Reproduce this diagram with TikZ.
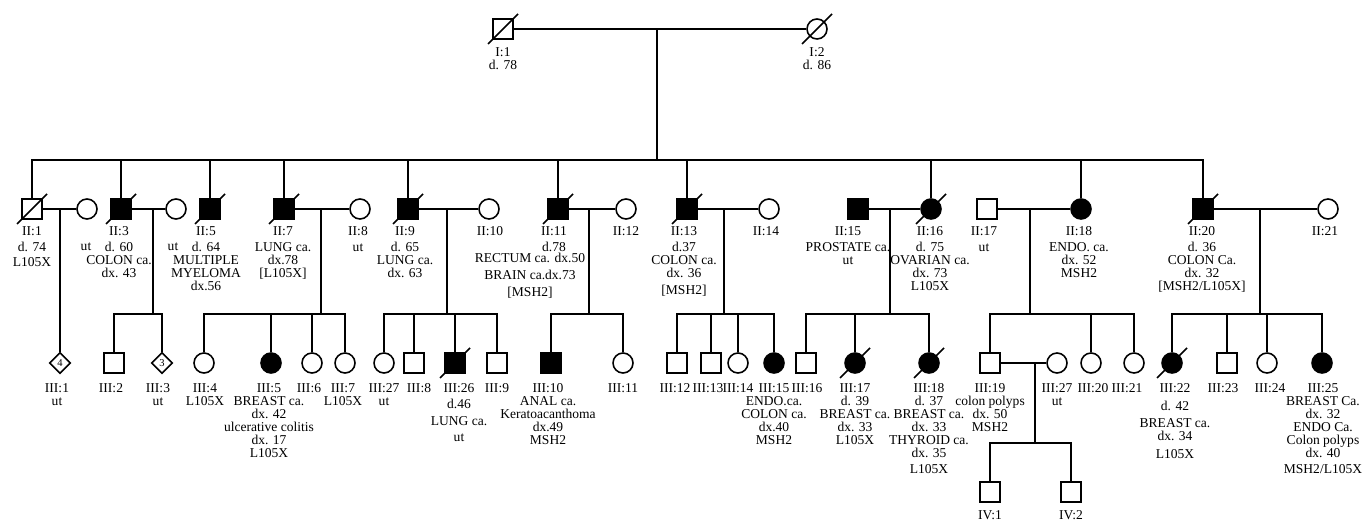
\documentclass[tikz,border=0pt]{standalone}
\usepackage{fontspec}
\setmainfont{Liberation Serif}
\usetikzlibrary{positioning,shapes.geometric}
\tikzset{
  line/.style={line width=0.9pt},
  desc/.style={line width=1.3pt},
  male/.style={draw,rectangle,minimum size=0.4cm,inner sep=0pt,line width=0.9pt,fill=white},
  female/.style={draw,circle,minimum size=0.4cm,inner sep=0pt,line width=0.9pt,fill=white},
  nosex/.style={draw,diamond,minimum size=0.42cm,inner sep=0pt,line width=0.9pt,fill=white,
                font=\fontsize{6}{6}\selectfont},
  aff/.style={fill=black},
  lbl/.style={anchor=north,align=center,inner sep=0pt,font=\fontsize{7.7}{7.4}\selectfont},
  utlbl/.style={anchor=base,inner sep=0pt,font=\fontsize{7.7}{7.4}\selectfont}
}
\newcommand{\dead}[1]{%
  \draw[line] ([shift={(-15,15)}]#1.center) -- ([shift={(15,-15)}]#1.center);}
\begin{document}
\begin{tikzpicture}[x=0.02cm,y=-0.02cm]
  \useasboundingbox (0,0) rectangle (1369,520);
  % generation I
  \node[male] (I1) at (503,29) {};
  \node[female] (I2) at (817,29) {};
  \dead{I1}\dead{I2}
  \node[lbl] (I1l) at (503,47) {I:1\\d. 78};
  \node[lbl] (I2l) at (817,47) {I:2\\d. 86};
  \draw[line] (I1) -- (I2);
  \coordinate (m0) at (657,29);
  \coordinate (s0) at (657,160);
  \draw[desc] (m0) -- (s0);
  % generation II
  \node[male] (II1) at (32,209) {};
  \node[female] (II1s) at (87,209) {};
  \node[male,aff] (II3) at (121,209) {};
  \node[female] (II3s) at (176,209) {};
  \node[male,aff] (II5) at (210,209) {};
  \node[male,aff] (II7) at (284,209) {};
  \node[female] (II8) at (360,209) {};
  \node[male,aff] (II9) at (408,209) {};
  \node[female] (II10) at (489,209) {};
  \node[male,aff] (II11) at (558,209) {};
  \node[female] (II12) at (626,209) {};
  \node[male,aff] (II13) at (687,209) {};
  \node[female] (II14) at (769,209) {};
  \node[male,aff] (II15) at (858,209) {};
  \node[female,aff] (II16) at (931,209) {};
  \node[male] (II17) at (987,209) {};
  \node[female,aff] (II18) at (1081,209) {};
  \node[male,aff] (II20) at (1203,209) {};
  \node[female] (II21) at (1328,209) {};
  \dead{II1}\dead{II3}\dead{II5}\dead{II7}\dead{II9}\dead{II11}\dead{II13}\dead{II16}\dead{II20}
  \draw[line] (II1) -- (II1 |- s0) -- (II20 |- s0) -- (II20);
  \foreach \c in {II3,II5,II7,II9,II11,II13,II16,II18}
    \draw[line] (\c) -- (\c |- s0);
  \foreach \a/\b in {II1/II1s,II3/II3s,II7/II8,II9/II10,II11/II12,II13/II14,II15/II16,II17/II18,II20/II21}
    \draw[line] (\a) -- (\b);
  \node[lbl] (II1l) at (32,226) {II:1\\[2pt]d. 74\\[1pt]L105X};
  \node[utlbl] (II1sl) at (86,251) {ut};
  \node[lbl] (II3l) at (119,226) {II:3\\[2pt]d. 60\\COLON ca.\\dx. 43};
  \node[utlbl] (II3sl) at (173,251) {ut};
  \node[lbl] (II5l) at (206,226) {II:5\\[2pt]d. 64\\MULTIPLE\\MYELOMA\\dx.56};
  \node[lbl] (II7l) at (283,226) {II:7\\[2pt]LUNG ca.\\dx.78\\{[L105X]}};
  \node[lbl] (II8l) at (358,226) {II:8\\[2pt]ut};
  \node[lbl] (II9l) at (405,226) {II:9\\[2pt]d. 65\\LUNG ca.\\dx. 63};
  \node[lbl] (II10l) at (490,226) {II:10};
  \node[lbl] (II11l) at (554,226) {II:11\\[2pt]d.78};
  \node[lbl] (II11d) at (530,253) {RECTUM ca. dx.50\\[2pt]BRAIN ca.dx.73\\[2.5pt]{[MSH2]}};
  \node[lbl] (II12l) at (626,226) {II:12};
  \node[lbl] (II13l) at (684,226) {II:13\\[2pt]d.37\\COLON ca.\\dx. 36\\[2pt]{[MSH2]}};
  \node[lbl] (II14l) at (766,226) {II:14};
  \node[lbl] (II15l) at (848,226) {II:15\\[2pt]PROSTATE ca.\\ut};
  \node[lbl] (II16l) at (930,226) {II:16\\[2pt]d. 75\\OVARIAN ca.\\dx. 73\\L105X};
  \node[lbl] (II17l) at (984,226) {II:17\\[2pt]ut};
  \node[lbl] (II18l) at (1079,226) {II:18\\[2pt]ENDO. ca.\\dx. 52\\MSH2};
  \node[lbl] (II20l) at (1202,226) {II:20\\[2pt]d. 36\\COLON Ca.\\dx. 32\\{[MSH2/L105X]}};
  \node[lbl] (II21l) at (1325,226) {II:21};
  % generation III
  \node[nosex] (III1) at (60,363) {4};
  \node[male] (III2) at (114,363) {};
  \node[nosex] (III3) at (162,363) {3};
  \node[female] (III4) at (204,363) {};
  \node[female,aff] (III5) at (271,363) {};
  \node[female] (III6) at (312,363) {};
  \node[female] (III7) at (345,363) {};
  \node[female] (III27a) at (384,363) {};
  \node[male] (III8) at (414,363) {};
  \node[male,aff] (III26) at (455,363) {};
  \node[male] (III9) at (497,363) {};
  \node[male,aff] (III10) at (551,363) {};
  \node[female] (III11) at (623,363) {};
  \node[male] (III12) at (677,363) {};
  \node[male] (III13) at (711,363) {};
  \node[female] (III14) at (738,363) {};
  \node[female,aff] (III15) at (774,363) {};
  \node[male] (III16) at (806,363) {};
  \node[female,aff] (III17) at (855,363) {};
  \node[female,aff] (III18) at (929,363) {};
  \node[male] (III19) at (990,363) {};
  \node[female] (III27b) at (1057,363) {};
  \node[female] (III20) at (1091,363) {};
  \node[female] (III21) at (1134,363) {};
  \node[female,aff] (III22) at (1172,363) {};
  \node[male] (III23) at (1227,363) {};
  \node[female] (III24) at (1267,363) {};
  \node[female,aff] (III25) at (1322,363) {};
  \dead{III26}\dead{III17}\dead{III18}\dead{III22}
  \coordinate (m1) at (60,209);
  \draw[desc] (m1) -- (III1);
  \coordinate (m3) at (153,209); \coordinate (s3) at (153,314);
  \draw[desc] (m3) -- (s3);
  \draw[line] (III2) -- (III2 |- s3) -- (III3 |- s3) -- (III3);
  \coordinate (m7) at (321,209); \coordinate (s7) at (321,314);
  \draw[desc] (m7) -- (s7);
  \draw[line] (III4) -- (III4 |- s7) -- (III7 |- s7) -- (III7);
  \foreach \c in {III5,III6} \draw[line] (\c) -- (\c |- s7);
  \coordinate (m9) at (447,209); \coordinate (s9) at (447,314);
  \draw[desc] (m9) -- (s9);
  \draw[line] (III27a) -- (III27a |- s9) -- (III9 |- s9) -- (III9);
  \foreach \c in {III8,III26} \draw[line] (\c) -- (\c |- s9);
  \coordinate (m11) at (589,209); \coordinate (s11) at (589,314);
  \draw[desc] (m11) -- (s11);
  \draw[line] (III10) -- (III10 |- s11) -- (III11 |- s11) -- (III11);
  \coordinate (m13) at (724,209); \coordinate (s13) at (724,314);
  \draw[desc] (m13) -- (s13);
  \draw[line] (III12) -- (III12 |- s13) -- (III15 |- s13) -- (III15);
  \foreach \c in {III13,III14} \draw[line] (\c) -- (\c |- s13);
  \coordinate (m15) at (890,209); \coordinate (s15) at (890,314);
  \draw[desc] (m15) -- (s15);
  \draw[line] (III16) -- (III16 |- s15) -- (III18 |- s15) -- (III18);
  \draw[line] (III17) -- (III17 |- s15);
  \coordinate (m17) at (1030,209); \coordinate (s17) at (1030,314);
  \draw[desc] (m17) -- (s17);
  \draw[line] (III19) -- (III19 |- s17) -- (III21 |- s17) -- (III21);
  \draw[line] (III20) -- (III20 |- s17);
  \coordinate (m20) at (1260,209); \coordinate (s20) at (1260,314);
  \draw[desc] (m20) -- (s20);
  \draw[line] (III22) -- (III22 |- s20) -- (III25 |- s20) -- (III25);
  \foreach \c in {III23,III24} \draw[line] (\c) -- (\c |- s20);
  \draw[line] (III19) -- (III27b);
  \node[lbl] (III1l) at (57,383) {III:1\\ut};
  \node[lbl] (III2l) at (111,383) {III:2};
  \node[lbl] (III3l) at (158,383) {III:3\\ut};
  \node[lbl] (III4l) at (205,383) {III:4\\L105X};
  \node[lbl] (III5l) at (269,383) {III:5\\BREAST ca.\\dx. 42\\ulcerative colitis\\dx. 17\\L105X};
  \node[lbl] (III6l) at (309,383) {III:6};
  \node[lbl] (III7l) at (343,383) {III:7\\L105X};
  \node[lbl] (III27al) at (384,383) {III:27\\ut};
  \node[lbl] (III8l) at (419,383) {III:8};
  \node[lbl] (III26l) at (459,383) {III:26\\[2pt]d.46\\[2pt]LUNG ca.\\[2pt]ut};
  \node[lbl] (III9l) at (497,383) {III:9};
  \node[lbl] (III10l) at (548,383) {III:10\\ANAL ca.\\Keratoacanthoma\\dx.49\\MSH2};
  \node[lbl] (III11l) at (623,383) {III:11};
  \node[lbl] (III12l) at (675,383) {III:12};
  \node[lbl] (III13l) at (708,383) {III:13};
  \node[lbl] (III14l) at (738,383) {III:14};
  \node[lbl] (III15l) at (774,383) {III:15\\ENDO.ca.\\COLON ca.\\dx.40\\MSH2};
  \node[lbl] (III16l) at (807,383) {III:16};
  \node[lbl] (III17l) at (855,383) {III:17\\d. 39\\BREAST ca.\\dx. 33\\L105X};
  \node[lbl] (III18l) at (929,383) {III:18\\d. 37\\BREAST ca.\\dx. 33\\THYROID ca.\\dx. 35\\[2pt]L105X};
  \node[lbl] (III19l) at (990,383) {III:19\\colon polyps\\dx. 50\\MSH2};
  \node[lbl] (III27bl) at (1057,383) {III:27\\ut};
  \node[lbl] (III20l) at (1093,383) {III:20};
  \node[lbl] (III21l) at (1127,383) {III:21};
  \node[lbl] (III22l) at (1175,383) {III:22\\[3pt]d. 42\\[2pt]BREAST ca.\\dx. 34\\[3pt]L105X};
  \node[lbl] (III23l) at (1223,383) {III:23};
  \node[lbl] (III24l) at (1270,383) {III:24};
  \node[lbl] (III25l) at (1323,383) {III:25\\BREAST Ca.\\dx. 32\\ENDO Ca.\\Colon polyps\\dx. 40\\[2pt]MSH2/L105X};
  % generation IV
  \node[male] (IV1) at (990,492) {};
  \node[male] (IV2) at (1071,492) {};
  \coordinate (m19) at (1035,363); \coordinate (s19) at (1035,443);
  \draw[desc] (m19) -- (s19);
  \draw[line] (IV1) -- (IV1 |- s19) -- (IV2 |- s19) -- (IV2);
  \node[lbl] (IV1l) at (990,510) {IV:1};
  \node[lbl] (IV2l) at (1071,510) {IV:2};
\end{tikzpicture}
\end{document}
